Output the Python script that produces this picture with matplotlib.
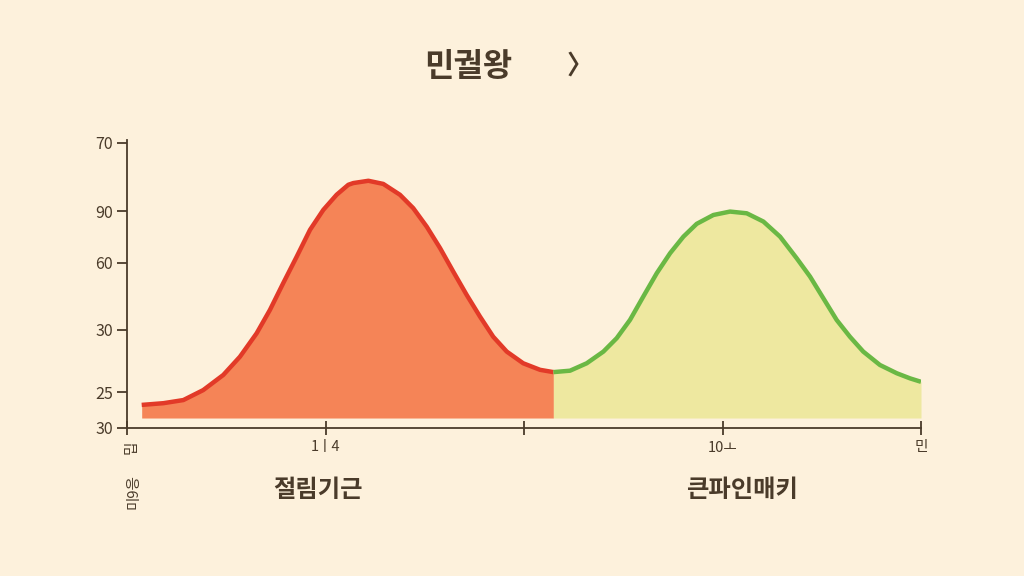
import matplotlib.pyplot as plt

plt.rcParams['font.family'] = ['Noto Sans CJK KR', 'DejaVu Sans']

# curve readings (x in tick units, y in axis units)
red_x = [0.074, 0.183, 0.284, 0.384, 0.485, 0.569, 0.653, 0.720, 0.787, 0.855,
         0.922, 0.989, 1.056, 1.115, 1.140, 1.216, 1.291, 1.375, 1.442, 1.510,
         1.577, 1.644, 1.711, 1.778, 1.845, 1.913, 1.996, 2.081, 2.148]
red_y = [8.1, 8.7, 9.8, 13.3, 18.6, 25.0, 33.2, 41.4, 50.8, 60.1,
         69.5, 76.5, 81.8, 85.3, 85.9, 86.7, 85.6, 81.8, 77.1, 70.6,
         63.1, 54.8, 46.7, 39.1, 32.0, 26.8, 22.7, 20.4, 19.6]
green_x = [2.148, 2.232, 2.316, 2.400, 2.467, 2.534, 2.601, 2.669, 2.736, 2.803,
           2.870, 2.954, 3.038, 3.122, 3.206, 3.290, 3.374, 3.441, 3.508, 3.575,
           3.642, 3.709, 3.793, 3.878, 3.945, 4.000]
green_y = [19.6, 20.1, 22.7, 26.8, 31.5, 37.9, 46.1, 54.3, 61.3, 67.1,
           71.6, 74.7, 75.9, 75.3, 72.4, 67.1, 59.5, 53.1, 45.5, 37.9,
           32.0, 26.8, 22.1, 19.2, 17.4, 16.2]
base = 3.5

ytick_pos = [100, 76.1, 57.9, 34.4, 12.6, 0]
ytick_lab = ['70', '90', '60', '30', '25', '30']
xtick_pos = [0, 1, 2, 3, 4]
xtick_lab = ['', '1ㅣ4', '', '10ㅗ', '민']
groups = ['절림기근', '큰파인매키']

bg = '#fdf1dc'
ink = '#4a3b2a'

fig = plt.figure(figsize=(10.24, 5.76), dpi=100, facecolor=bg)
ax = fig.add_axes([127 / 1024, 148 / 576, 794 / 1024, 288 / 576])
ax.set_facecolor(bg)

ax.fill_between(red_x, base, red_y, color='#f58457', lw=0)
ax.plot(red_x, red_y, color='#e23a28', lw=3.2, solid_capstyle='butt',
        solid_joinstyle='round')
ax.fill_between(green_x, base, green_y, color='#eee8a0', lw=0)
ax.plot(green_x, green_y, color='#6ab844', lw=3.2, solid_capstyle='butt',
        solid_joinstyle='round')

ax.set_xlim(0, 4)
ax.set_ylim(0, 101)
for s in ['top', 'right']:
    ax.spines[s].set_visible(False)
for s in ['left', 'bottom']:
    ax.spines[s].set_color(ink)
    ax.spines[s].set_linewidth(1.3)

ax.set_yticks(ytick_pos)
ax.set_yticklabels(ytick_lab, fontsize=11.5, color=ink)
ax.tick_params(axis='y', length=7, width=1.3, color=ink, pad=3)
ax.set_xticks(xtick_pos)
ax.set_xticklabels(xtick_lab, fontsize=10.5, color=ink)
ax.tick_params(axis='x', direction='inout', length=10, width=1.3, color=ink, pad=4)

# rotated labels under the first tick
ax.text(0.006, -0.068, '밉', transform=ax.transAxes, rotation=90,
        fontsize=10.5, color=ink, ha='center', va='center')
ax.text(0.008, -0.22, '미9응', transform=ax.transAxes, rotation=90,
        fontsize=10.5, color=ink, ha='center', va='center')

ax.text(0.24, -0.215, groups[0], transform=ax.transAxes, fontsize=17.5,
        fontweight='bold', color=ink, ha='center', va='center')
ax.text(0.775, -0.215, groups[1], transform=ax.transAxes, fontsize=17.5,
        fontweight='bold', color=ink, ha='center', va='center')

fig.text(468 / 1024, 1 - 67 / 576, '민궐왕', fontsize=23, fontweight='bold',
         color=ink, ha='center', va='center')
fig.text(580 / 1024, 1 - 66 / 576, '〉', fontsize=19, color=ink,
         fontweight='bold', ha='center', va='center')

fig.savefig('out.png', dpi=100, facecolor=bg)
